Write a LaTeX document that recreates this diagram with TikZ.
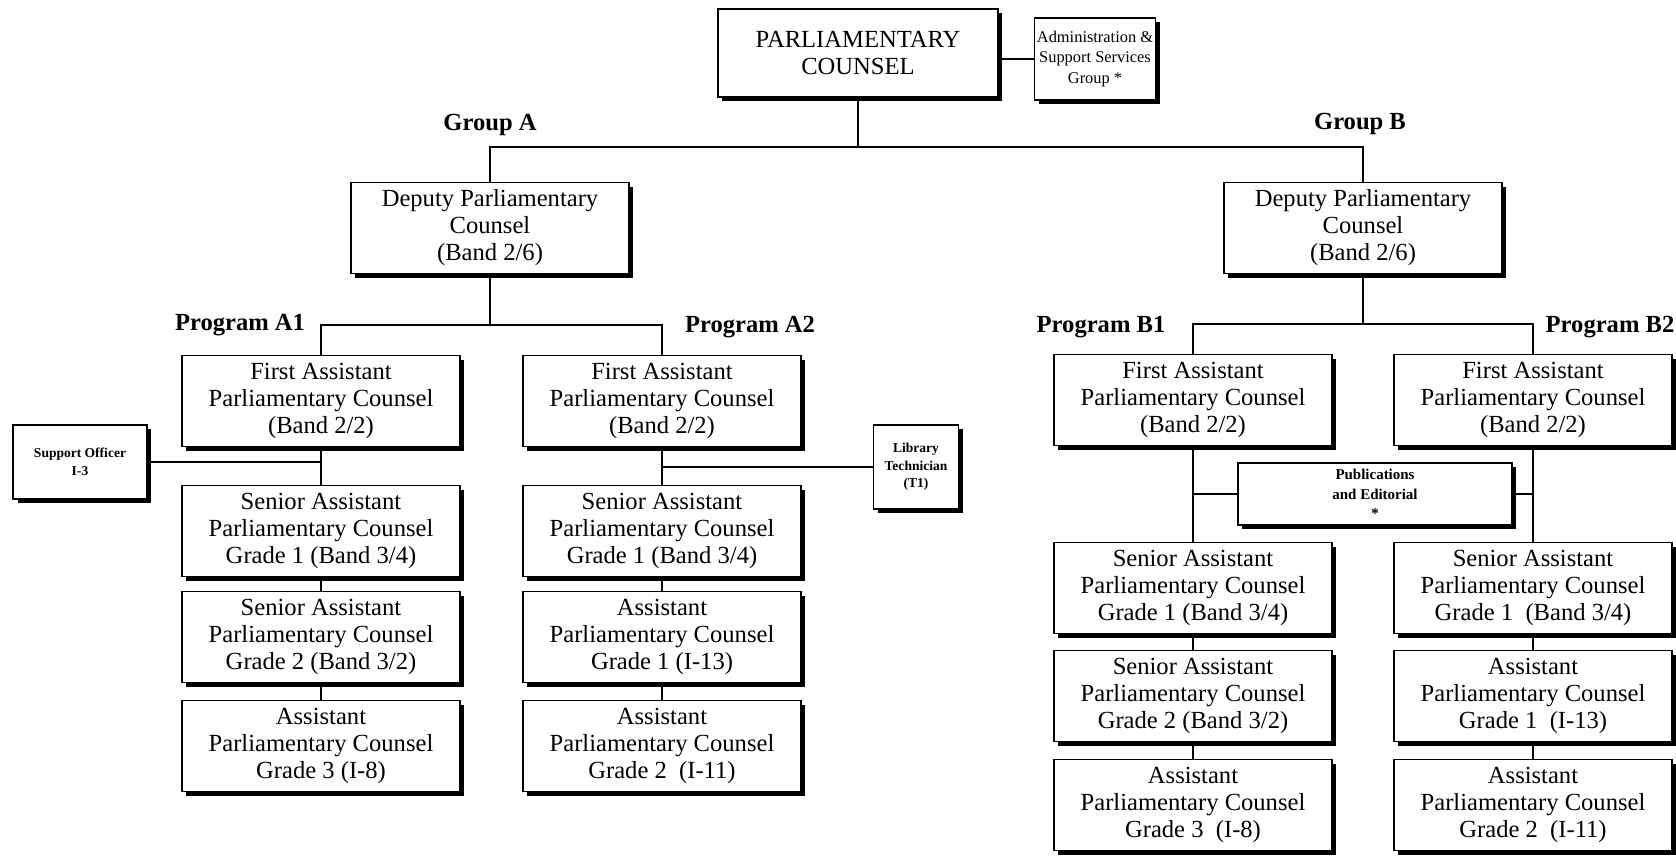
\documentclass[tikz,border=0pt]{standalone}
\usepackage{fontspec}
\setmainfont{Liberation Serif}
\usepackage{tikz}
\usetikzlibrary{shadows}
\tikzset{every edge/.style={draw, line width=0.9pt}}
\tikzset{post/.style={draw, line width=0.9pt, fill=white, align=center, inner sep=1pt,
    minimum width=135.7pt, minimum height=44.4pt, font=\fontsize{12}{13.2}\selectfont,
    drop shadow={shadow xshift=2pt, shadow yshift=-2pt, fill=black, opacity=1}},
  unit/.style={post, font=\bfseries\fontsize{6.6}{8.5}\selectfont},
  tag/.style={font=\bfseries\fontsize{12}{14}\selectfont}}

\begin{document}
\begin{tikzpicture}[x=0.488pt, y=-0.488pt, line width=0.9pt]
    \useasboundingbox (0, 0) rectangle (1676, 857);
    \node[post, minimum width=136.6pt, minimum height=42.9pt] at (858, 53) (pc) {PARLIAMENTARY\\COUNSEL};
    \node[post, inner sep=0.5pt, font=\fontsize{8}{10}\selectfont, minimum width=59pt, minimum height=40pt] at (1095, 59) (adm) {Administration \&\\Support Services\\Group *};

    \node[tag] at (490, 125) (grpA) {Group A};
    \node[tag] at (1360, 124) (grpB) {Group B};
    \node[post] at (490, 228) (depA) {Deputy Parliamentary\\Counsel\\(Band 2/6)};
    \node[post] at (1363, 228) (depB) {Deputy Parliamentary\\Counsel\\(Band 2/6)};

    \node[tag] at (240, 325) (prgA1) {Program A1};
    \node[tag] at (750, 327) (prgA2) {Program A2};
    \node[tag] at (1101, 327) (prgB1) {Program B1};
    \node[tag] at (1610, 327) (prgB2) {Program B2};

    % program A1
    \node[post] at (321, 401) (a1) {First Assistant\\Parliamentary Counsel\\(Band 2/2)};
    \node[post] at (321, 531) (a1s1) {Senior Assistant\\Parliamentary Counsel\\Grade 1 (Band 3/4)};
    \node[post] at (321, 637) (a1s2) {Senior Assistant\\Parliamentary Counsel\\Grade 2 (Band 3/2)};
    \node[post] at (321, 746) (a1s3) {Assistant\\Parliamentary Counsel\\Grade 3 (I-8)};
    \node[unit, minimum width=65pt, minimum height=36pt] at (80, 462) (sup) {Support Officer\\I-3};

    % program A2
    \node[post] at (662, 401) (a2) {First Assistant\\Parliamentary Counsel\\(Band 2/2)};
    \node[post] at (662, 531) (a2s1) {Senior Assistant\\Parliamentary Counsel\\Grade 1 (Band 3/4)};
    \node[post] at (662, 637) (a2s2) {Assistant\\Parliamentary Counsel\\Grade 1 (I-13)};
    \node[post] at (662, 746) (a2s3) {Assistant\\Parliamentary Counsel\\Grade 2~~(I-11)};
    \node[unit, minimum width=41.5pt, minimum height=41pt] at (916, 467) (lib) {Library\\Technician\\(T1)};

    % program B1 and B2
    \node[post] at (1193, 400) (b1) {First Assistant\\Parliamentary Counsel\\(Band 2/2)};
    \node[post] at (1193, 588) (b1s1) {Senior Assistant\\Parliamentary Counsel\\Grade 1 (Band 3/4)};
    \node[post] at (1193, 696) (b1s2) {Senior Assistant\\Parliamentary Counsel\\Grade 2 (Band 3/2)};
    \node[post] at (1193, 805) (b1s3) {Assistant\\Parliamentary Counsel\\Grade 3~~(I-8)};
    \node[post] at (1533, 400) (b2) {First Assistant\\Parliamentary Counsel\\(Band 2/2)};
    \node[post] at (1533, 588) (b2s1) {Senior Assistant\\Parliamentary Counsel\\Grade 1~~(Band 3/4)};
    \node[post] at (1533, 696) (b2s2) {Assistant\\Parliamentary Counsel\\Grade 1~~(I-13)};
    \node[post] at (1533, 805) (b2s3) {Assistant\\Parliamentary Counsel\\Grade 2~~(I-11)};
    \node[unit, font=\bfseries\fontsize{7.3}{9.5}\selectfont, minimum width=134pt, minimum height=30pt] at (1375, 494) (pub) {Publications\\and Editorial\\*};

    % tree lines
    \coordinate (barG) at (858, 147);
    \coordinate (barA) at (490, 325);
    \coordinate (barB) at (1363, 324);
    \draw (pc.south) -- (pc.south |- barG);
    \draw (depA.north) |- (barG) -| (depB.north);
    \draw (adm.west) -- (adm.west -| pc.east);
    \draw (depA.south) -- (depA.south |- barA);
    \draw (a1.north) |- (barA) -| (a2.north);
    \draw (depB.south) -- (depB.south |- barB);
    \draw (b1.north) |- (barB) -| (b2.north);

    \draw (a1.south) edge (a1s1.north) (a1s1.south) edge (a1s2.north) (a1s2.south) edge (a1s3.north);
    \draw (a2.south) edge (a2s1.north) (a2s1.south) edge (a2s2.north) (a2s2.south) edge (a2s3.north);
    \draw (b1.south) edge (b1s1.north) (b1s1.south) edge (b1s2.north) (b1s2.south) edge (b1s3.north);
    \draw (b2.south) edge (b2s1.north) (b2s1.south) edge (b2s2.north) (b2s2.south) edge (b2s3.north);

    % side units
    \draw (sup.east) -- (sup.east -| a1.south);
    \draw (lib.west) -- (lib.west -| a2.south);
    \draw (pub.west) -- (pub.west -| b1.south);
    \draw (pub.east) -- (pub.east -| b2.south);
\end{tikzpicture}
\end{document}
